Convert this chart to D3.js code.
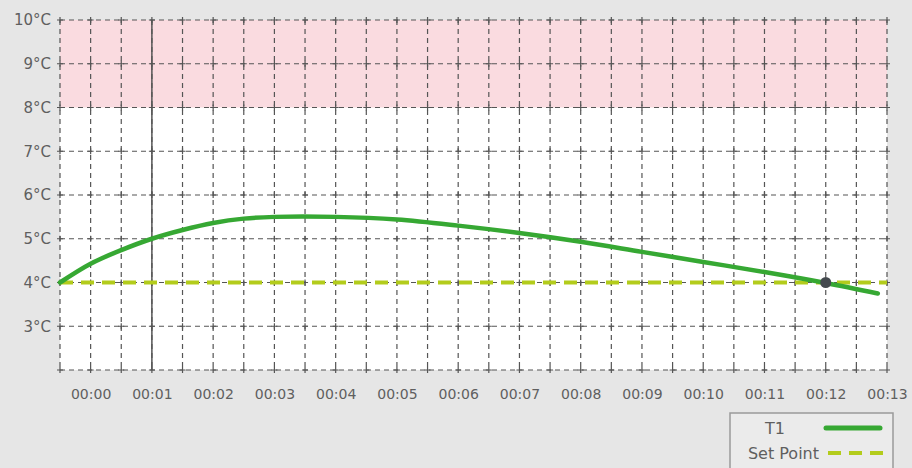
<!DOCTYPE html>
<html>
<head>
<meta charset="utf-8">
<script src="https://cdn.jsdelivr.net/npm/d3@7"></script>
<style>
  body { margin: 0; background: #e6e6e6; }
  svg { display: block; }
  text { font-family: "DejaVu Sans", sans-serif; fill: #5f5f5f; }
</style>
</head>
<body>
<div class="chart"></div>
<script>
var svgWidth = 912;
var svgHeight = 468;

var margin = { top: 20, right: 25, bottom: 98, left: 60 };
var width = svgWidth - margin.left - margin.right;
var height = svgHeight - margin.top - margin.bottom;

// data (minutes, °C)
var times = [-0.5, 0, 0.5, 1, 1.5, 2, 2.5, 3, 4, 5, 6, 7, 8, 9, 10, 11, 12, 12.85];
var t1Values = [4.0, 4.43, 4.74, 5.0, 5.2, 5.36, 5.46, 5.5, 5.5, 5.44, 5.3, 5.13, 4.93, 4.70, 4.47, 4.24, 3.99, 3.75];
var setPoint = 4;
var alarmBand = [8, 10];
var markerTime = 1;
var dotTime = 12;
var yTicks = [3, 4, 5, 6, 7, 8, 9, 10];
var xTickLabels = ["00:00", "00:01", "00:02", "00:03", "00:04", "00:05", "00:06",
  "00:07", "00:08", "00:09", "00:10", "00:11", "00:12", "00:13"];
var legendLabels = ["T1", "Set Point"];

var svg = d3.select(".chart")
  .append("svg")
  .attr("width", svgWidth)
  .attr("height", svgHeight);

var chartGroup = svg.append("g")
  .attr("transform", `translate(${margin.left}, ${margin.top})`);

var x = d3.scaleLinear().domain([-0.5, 13]).range([0, width]);
var y = d3.scaleLinear().domain([2, 10]).range([height, 0]);

// plot background + alarm band
chartGroup.append("rect")
  .attr("width", width).attr("height", height)
  .attr("fill", "#fff");
chartGroup.append("rect")
  .attr("x", 0).attr("y", y(alarmBand[1]))
  .attr("width", width).attr("height", y(alarmBand[0]) - y(alarmBand[1]))
  .attr("fill", "#fadbe0");

// grid
var xGrid = d3.range(-0.5, 13.01, 0.5);
var yGrid = d3.range(2, 10.01, 1);
var grid = chartGroup.append("g")
  .attr("stroke", "#555").attr("stroke-width", 1.2)
  .attr("stroke-dasharray", "5,4");
grid.selectAll(".gx").data(xGrid).enter().append("line")
  .attr("x1", d => x(d)).attr("x2", d => x(d))
  .attr("y1", 0).attr("y2", height);
grid.selectAll(".gy").data(yGrid).enter().append("line")
  .attr("y1", d => y(d)).attr("y2", d => y(d))
  .attr("x1", 0).attr("x2", width);

// little crosses at intersections
var crosses = [];
xGrid.forEach(function(a) { yGrid.forEach(function(b) { crosses.push([a, b]); }); });
chartGroup.append("g").attr("stroke", "#555").attr("stroke-width", 1.2)
  .selectAll("path").data(crosses).enter().append("path")
  .attr("d", d => `M${x(d[0]) - 3},${y(d[1])}h6M${x(d[0])},${y(d[1]) - 3}v6`);

// current time marker
chartGroup.append("line")
  .attr("x1", x(markerTime)).attr("x2", x(markerTime))
  .attr("y1", 0).attr("y2", height)
  .attr("stroke", "#555").attr("stroke-width", 1.5);

// axes labels
var xAxis = d3.axisBottom(x).tickValues(d3.range(0, 14)).tickSize(0).tickPadding(19)
  .tickFormat((d, i) => xTickLabels[i]);
var gx = chartGroup.append("g")
  .attr("transform", `translate(0, ${height})`)
  .call(xAxis);
gx.select(".domain").remove();
gx.selectAll("text").style("font-size", "14px").style("font-family", "DejaVu Sans").attr("fill", "#5f5f5f");

var yAxis = d3.axisLeft(y).tickValues(yTicks).tickSize(0).tickPadding(9)
  .tickFormat(d => d + "°C");
var gy = chartGroup.append("g").call(yAxis);
gy.select(".domain").remove();
gy.selectAll("text").style("font-size", "15px").style("font-family", "DejaVu Sans").attr("fill", "#5f5f5f");

// set point line
chartGroup.append("line")
  .attr("x1", 0).attr("x2", width)
  .attr("y1", y(setPoint)).attr("y2", y(setPoint))
  .attr("stroke", "#b3cc1c").attr("stroke-width", 4)
  .attr("stroke-dasharray", "13,8");

// T1 line
var line = d3.line()
  .x((d, i) => x(times[i]))
  .y(d => y(d))
  .curve(d3.curveCatmullRom.alpha(0.5));
chartGroup.append("path")
  .datum(t1Values)
  .attr("d", line)
  .attr("fill", "none")
  .attr("stroke", "#36a833")
  .attr("stroke-width", 4.5)
  .attr("stroke-linecap", "round");

// dot
chartGroup.append("circle")
  .attr("cx", x(dotTime)).attr("cy", y(setPoint))
  .attr("r", 5.5).attr("fill", "#454a4f");

// legend
var legend = svg.append("g").attr("transform", "translate(730, 413)");
legend.append("rect")
  .attr("width", 163).attr("height", 62)
  .attr("fill", "#ebebeb").attr("stroke", "#9a9a9a").attr("stroke-width", 1.5);
legend.append("text").attr("x", 45).attr("y", 21).attr("text-anchor", "middle")
  .style("font-size", "16px").text(legendLabels[0]);
legend.append("text").attr("x", 89).attr("y", 46).attr("text-anchor", "end")
  .style("font-size", "16px").text(legendLabels[1]);
legend.append("line").attr("x1", 96).attr("x2", 150).attr("y1", 15).attr("y2", 15)
  .attr("stroke", "#36a833").attr("stroke-width", 5).attr("stroke-linecap", "round");
legend.append("line").attr("x1", 98).attr("x2", 156).attr("y1", 40).attr("y2", 40)
  .attr("stroke", "#b3cc1c").attr("stroke-width", 4).attr("stroke-dasharray", "13,8");
</script>
</body>
</html>
